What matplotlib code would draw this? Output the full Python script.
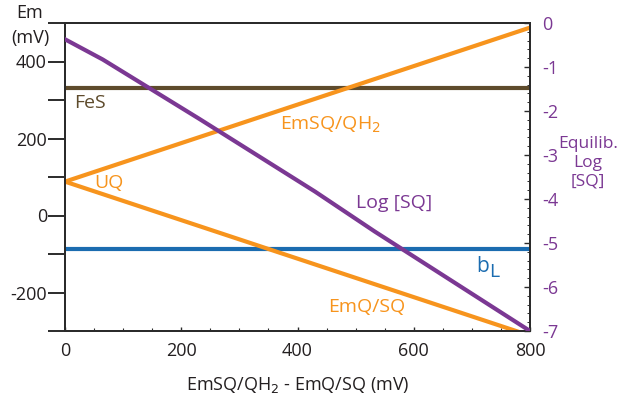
import matplotlib
matplotlib.use("Agg")
import matplotlib.pyplot as plt
from matplotlib.ticker import MultipleLocator

plt.rcParams['font.family'] = ['Open Sans', 'DejaVu Sans']
plt.rcParams['axes.unicode_minus'] = False

# Data
x_range = [0, 800]
fes_em = 330                     # FeS (mV)
bl_em = -88                      # heme bL (mV)
emsq_qh2 = [88, 488]             # EmSQ/QH2 at x = 0, 800
emq_sq = [88, -312]              # EmQ/SQ at x = 0, 800
logsq_x = [0, 65, 150, 230, 330, 430, 533, 800]
logsq_y = [-0.37, -0.83, -1.52, -2.17, -3.0, -3.83, -4.74, -7.0]
left_ticks = [-300, -200, -100, 0, 100, 200, 300, 400, 500]
left_ticklabels = ['', '-200', '', '0', '', '200', '', '400', '']
right_ticks = [0, -1, -2, -3, -4, -5, -6, -7]
right_ticklabels = ['0', '-1', '-2', '-3', '-4', '-5', '-6', '-7']
x_ticks = [0, 200, 400, 600, 800]

ORANGE = '#f7941d'
PURPLE = '#7b3893'
BROWN = '#5e4b2c'
BLUE = '#1b6cb0'
DARK = '#2b2b2b'

fig = plt.figure(figsize=(6.29, 4.04), dpi=100)
ax = fig.add_axes([65/629, 73/404, 465/629, 308/404])
ax2 = ax.twinx()

ax.set_xlim(0, 800)
ax.set_ylim(-300, 500)
ax2.set_ylim(-7, 0)

ax.plot(x_range, [fes_em, fes_em], color=BROWN, lw=3, solid_capstyle='butt', zorder=2)
ax.plot(x_range, [bl_em, bl_em], color=BLUE, lw=3, solid_capstyle='butt', zorder=2)
ax.plot(x_range, emsq_qh2, color=ORANGE, lw=3, zorder=3)
ax.plot(x_range, emq_sq, color=ORANGE, lw=3, zorder=3)
ax2.plot(logsq_x, logsq_y, color=PURPLE, lw=3, zorder=4)

fs = 13
fl = 14
ax.text(15, 293, 'FeS', color=BROWN, fontsize=fl, va='center', ha='left')
ax.text(50, 84, 'UQ', color=ORANGE, fontsize=fl, va='center', ha='left')
ax.text(370, 235, 'EmSQ/QH$_2$', color=ORANGE, fontsize=fl, va='center', ha='left')
ax.text(500, 33, 'Log [SQ]', color=PURPLE, fontsize=fl, va='center', ha='left')
ax.text(707, -133, 'b', color=BLUE, fontsize=fl + 1, va='center', ha='left')
ax.text(729, -146, 'L', color=BLUE, fontsize=fl, va='center', ha='left')
ax.text(452, -237, 'EmQ/SQ', color=ORANGE, fontsize=fl, va='center', ha='left')

for a in (ax, ax2):
    for s in a.spines.values():
        s.set_linewidth(1.4)
        s.set_color(DARK)

# left axis
ax.set_yticks(left_ticks)
ax.set_yticklabels(left_ticklabels)
ax.tick_params(axis='y', direction='out', length=12, width=1.4, color=DARK,
               labelsize=fs, labelcolor='#231f20', pad=1)
# bottom axis
ax.set_xticks(x_ticks)
ax.xaxis.set_minor_locator(MultipleLocator(50))
ax.tick_params(axis='x', which='major', direction='in', length=3, width=1, color=DARK,
               labelsize=fs, labelcolor='#231f20', pad=8)
ax.tick_params(axis='x', which='minor', direction='in', length=2, width=0.8, color=DARK)
ax.set_xlabel('EmSQ/QH$_2$ - EmQ/SQ (mV)', fontsize=fs, color='#231f20', labelpad=11)

# right axis
ax2.set_yticks(right_ticks)
ax2.set_yticklabels(right_ticklabels)
ax2.yaxis.set_minor_locator(MultipleLocator(0.2))
ax2.tick_params(axis='y', which='major', direction='in', length=4, width=1, color=DARK,
                labelsize=fs, labelcolor=PURPLE, pad=9)
ax2.tick_params(axis='y', which='minor', direction='in', length=2, width=0.7, color=DARK)

fig.text(30/629, 1 - 13/404, 'Em', fontsize=fs, color='#231f20', ha='center', va='center')
fig.text(30/629, 1 - 38/404, '(mV)', fontsize=fs, color='#231f20', ha='center', va='center')
fig.text(588/629, 1 - 163/404, 'Equilib.\nLog\n[SQ]', fontsize=fs - 0.5, color=PURPLE,
         ha='center', va='center', linespacing=1.25)

fig.savefig('out.png', dpi=100)
